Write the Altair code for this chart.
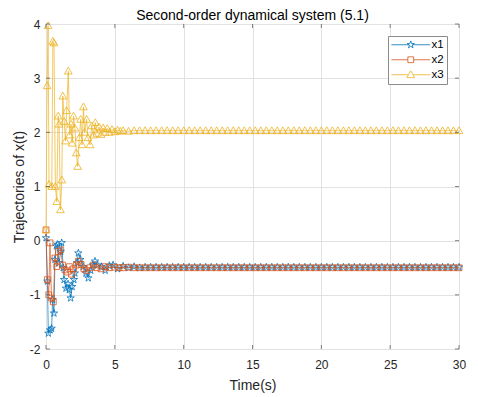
import altair as alt
import pandas as pd

# ---------------- data ----------------
series_names = ["x1", "x2", "x3"]
series_colors = ["#0072BD", "#D95319", "#EDB120"]

# transient part
t_x1 = [0, 0.1, 0.17, 0.3, 0.41, 0.48, 0.58, 0.65, 0.75, 0.82, 0.95, 1.07, 1.14,
        1.25, 1.31, 1.45, 1.6, 1.69, 1.79, 1.9, 2.03, 2.1, 2.25, 2.35, 2.5, 2.71,
        2.9, 3.07, 3.25, 3.4, 3.56, 3.75, 4.04, 4.3, 4.6, 4.87, 5.2]
v_x1 = [0.05, -0.75, -1.71, -1.65, -1.62, -1.09, -1.34, -0.35, -0.1, -0.07, -0.41,
        -0.2, -0.04, -0.5, -0.72, -0.88, -0.8, -0.91, -1.06, -0.85, -0.72, -0.6,
        -0.41, -0.23, -0.35, -0.48, -0.6, -0.69, -0.55, -0.45, -0.38, -0.45, -0.48,
        -0.55, -0.46, -0.45, -0.52]

t_x2 = [0, 0.1, 0.2, 0.29, 0.4, 0.53, 0.65, 0.78, 0.9, 1.07, 1.2, 1.38, 1.55, 1.7,
        1.85, 2.0, 2.2, 2.35, 2.55, 2.75, 2.95, 3.2, 3.45, 3.7, 4.0, 4.3, 4.6, 5.0, 5.3]
v_x2 = [0.2, -0.72, -1.0, -0.04, -1.06, -1.13, -0.32, -0.48, -0.2, -0.17, -0.45,
        -0.54, -0.58, -0.48, -0.62, -0.52, -0.45, -0.38, -0.44, -0.52, -0.55, -0.5,
        -0.45, -0.5, -0.52, -0.48, -0.5, -0.49, -0.5]

t_x3 = [0, 0.08, 0.15, 0.22, 0.42, 0.5, 0.58, 0.68, 0.78, 0.88, 0.95, 1.05, 1.15,
        1.22, 1.32, 1.42, 1.5, 1.62, 1.72, 1.82, 1.9, 2.0, 2.1, 2.2, 2.3, 2.42, 2.52,
        2.62, 2.72, 2.8, 2.95, 3.05, 3.2, 3.32, 3.45, 3.58, 3.7, 3.85, 4.0, 4.15, 4.3,
        4.45, 4.6, 4.8, 5.0, 5.2, 5.4]
v_x3 = [0.2, 2.86, 3.97, 1.04, 1.0, 3.68, 3.65, 1.0, 0.72, 2.3, 2.15, 0.57, 1.12,
        2.67, 2.2, 1.84, 2.4, 3.13, 1.95, 2.15, 1.8, 2.3, 2.08, 1.62, 1.37, 1.9, 2.24,
        1.77, 2.47, 2.0, 2.24, 1.9, 1.77, 2.12, 1.95, 2.18, 1.98, 2.1, 1.96, 2.08, 2.0,
        2.07, 2.0, 2.05, 2.01, 2.04, 2.02]

# settled part (shared sample times)
t_tail = [5.6, 6.0, 6.4, 6.8, 7.2, 7.6, 8.0, 8.4, 8.8, 9.2, 9.6, 10.0, 10.4, 10.8,
          11.2, 11.6, 12.0, 12.4, 12.8, 13.2, 13.6, 14.0, 14.4, 14.8, 15.2, 15.6,
          16.0, 16.4, 16.8, 17.2, 17.6, 18.0, 18.4, 18.8, 19.2, 19.6, 20.0, 20.4,
          20.8, 21.2, 21.6, 22.0, 22.4, 22.8, 23.2, 23.6, 24.0, 24.4, 24.8, 25.2,
          25.6, 26.0, 26.4, 26.8, 27.2, 27.6, 28.0, 28.4, 28.8, 29.2, 29.6, 30.0]
v_x1_tail = [-0.47, -0.5, -0.48, -0.5, -0.49, -0.49, -0.49, -0.49, -0.49, -0.49,
             -0.49, -0.49, -0.49, -0.49, -0.49, -0.49, -0.49, -0.49, -0.49, -0.49,
             -0.49, -0.49, -0.49, -0.49, -0.49, -0.49, -0.49, -0.49, -0.49, -0.49,
             -0.49, -0.49, -0.49, -0.49, -0.49, -0.49, -0.49, -0.49, -0.49, -0.49,
             -0.49, -0.49, -0.49, -0.49, -0.49, -0.49, -0.49, -0.49, -0.49, -0.49,
             -0.49, -0.49, -0.49, -0.49, -0.49, -0.49, -0.49, -0.49, -0.49, -0.49,
             -0.49, -0.49]
v_x2_tail = [-0.5, -0.49, -0.5, -0.5, -0.5, -0.5, -0.5, -0.5, -0.5, -0.5, -0.5,
             -0.5, -0.5, -0.5, -0.5, -0.5, -0.5, -0.5, -0.5, -0.5, -0.5, -0.5,
             -0.5, -0.5, -0.5, -0.5, -0.5, -0.5, -0.5, -0.5, -0.5, -0.5, -0.5,
             -0.5, -0.5, -0.5, -0.5, -0.5, -0.5, -0.5, -0.5, -0.5, -0.5, -0.5,
             -0.5, -0.5, -0.5, -0.5, -0.5, -0.5, -0.5, -0.5, -0.5, -0.5, -0.5,
             -0.5, -0.5, -0.5, -0.5, -0.5, -0.5, -0.5]
v_x3_tail = [2.03, 2.02, 2.03, 2.03, 2.03, 2.03, 2.03, 2.03, 2.03, 2.03, 2.03,
             2.03, 2.03, 2.03, 2.03, 2.03, 2.03, 2.03, 2.03, 2.03, 2.03, 2.03,
             2.03, 2.03, 2.03, 2.03, 2.03, 2.03, 2.03, 2.03, 2.03, 2.03, 2.03,
             2.03, 2.03, 2.03, 2.03, 2.03, 2.03, 2.03, 2.03, 2.03, 2.03, 2.03,
             2.03, 2.03, 2.03, 2.03, 2.03, 2.03, 2.03, 2.03, 2.03, 2.03, 2.03,
             2.03, 2.03, 2.03, 2.03, 2.03, 2.03, 2.03]

x_ticks = [0, 5, 10, 15, 20, 25, 30]
y_ticks = [-2, -1, 0, 1, 2, 3, 4]

# ---------------- marker shapes ----------------
STAR = ("M0,-1L0.2245,-0.309L0.951,-0.309L0.363,0.118L0.588,0.809L0,0.382"
        "L-0.588,0.809L-0.363,0.118L-0.951,-0.309L-0.2245,-0.309Z")
SQUARE = "M-0.75,-0.75L0.75,-0.75L0.75,0.75L-0.75,0.75Z"
TRI = "M0,-1L1,0.75L-1,0.75Z"
markers = [STAR, SQUARE, TRI]
legend_paths = [
    "M-5,0L-0.4,0M0.4,0L5,0" + STAR,
    "M-5,0L-0.75,0M0.75,0L5,0" + SQUARE,
    "M-5,0L-0.6,0M0.6,0L5,0" + TRI,
]

rows = []
for name, ts, vs in [("x1", t_x1 + t_tail, v_x1 + v_x1_tail),
                     ("x2", t_x2 + t_tail, v_x2 + v_x2_tail),
                     ("x3", t_x3 + t_tail, v_x3 + v_x3_tail)]:
    for i, (t, v) in enumerate(zip(ts, vs)):
        rows.append({"series": name, "t": t, "value": v, "idx": i})
df = pd.DataFrame(rows)

FONT = "Liberation Sans"
TXT = "#262626"

X = alt.X("t:Q", scale=alt.Scale(domain=[0, 30], nice=False, zero=False),
          axis=alt.Axis(values=x_ticks, title="Time(s)", grid=True, ticks=False,
                        tickSize=0, domain=False, labelFlush=False, labelOverlap=False,
                        labelPadding=10, titlePadding=8, labelFontSize=12,
                        titleFontSize=14, titleFontWeight="normal",
                        labelColor=TXT, titleColor=TXT, labelFont=FONT, titleFont=FONT,
                        gridColor="#e2e2e2", gridWidth=1))
Y = alt.Y("value:Q", scale=alt.Scale(domain=[-2, 4], nice=False, zero=False),
          axis=alt.Axis(values=y_ticks, title="Trajectories of x(t)", grid=True,
                        ticks=False, tickSize=0, domain=False, labelFlush=False,
                        labelOverlap=False, labelPadding=6, titlePadding=3,
                        labelExpr="'' + datum.value",
                        labelFontSize=12, titleFontSize=14, titleFontWeight="normal",
                        labelColor=TXT, titleColor=TXT, labelFont=FONT, titleFont=FONT,
                        gridColor="#e2e2e2", gridWidth=1))

base = alt.Chart(df)
layers = []
for name, col, mk in zip(series_names, series_colors, markers):
    sub = base.transform_filter(alt.datum.series == name)
    layers.append(sub.mark_line(color=col, strokeWidth=0.7).encode(
        x=X, y=Y, order=alt.Order("idx:Q")))
    layers.append(sub.mark_point(shape=mk, color=col, filled=False, size=60,
                                 strokeWidth=0.8, opacity=1).encode(x=X, y=Y))

# legend-only layer (invisible points, visible legend)
legend_layer = base.mark_point(filled=False, opacity=0, size=60).encode(
    x=X, y=Y,
    color=alt.Color("series:N", scale=alt.Scale(domain=series_names, range=series_colors),
                    legend=alt.Legend(title=None, orient="none", legendX=342, legendY=12,
                                      symbolOpacity=1, symbolSize=60, symbolStrokeWidth=0.8,
                                      symbolOffset=14, labelOffset=15, padding=3,
                                      rowPadding=2, labelFontSize=11.5, labelFont=FONT,
                                      labelColor="#000", fillColor="white",
                                      strokeColor="#8c8c8c",
                                      labelExpr="datum.label + '     '")),
    shape=alt.Shape("series:N", scale=alt.Scale(domain=series_names, range=legend_paths)),
)
layers.append(legend_layer)

# inward axis ticks on all four sides
xt = pd.DataFrame({"t": x_ticks})
yt = pd.DataFrame({"value": y_ticks})
tick_col = "#4d4d4d"
layers.append(alt.Chart(xt).mark_rule(color=tick_col, strokeWidth=0.7).encode(
    x=X, y=alt.value(325), y2=alt.value(321)))
layers.append(alt.Chart(xt).mark_rule(color=tick_col, strokeWidth=0.7).encode(
    x=X, y=alt.value(0), y2=alt.value(4)))
layers.append(alt.Chart(yt).mark_rule(color=tick_col, strokeWidth=0.7).encode(
    y=Y, x=alt.value(0), x2=alt.value(4)))
layers.append(alt.Chart(yt).mark_rule(color=tick_col, strokeWidth=0.7).encode(
    y=Y, x=alt.value(409), x2=alt.value(413)))

chart = alt.layer(*layers).properties(
    width=413, height=325,
    title=alt.TitleParams("Second-order dynamical system (5.1)", fontSize=14,
                          fontWeight="normal", font=FONT, color="#000", offset=6,
                          anchor="middle", frame="group", dy=11),
    autosize=alt.AutoSizeParams(type="none"),
    padding={"left": 38, "top": 16, "right": 11, "bottom": 48},
).configure_view(stroke="#6e6e6e", strokeWidth=1).configure(background="white")

chart.save("out.html", embed_options={"renderer": "svg", "actions": False})
